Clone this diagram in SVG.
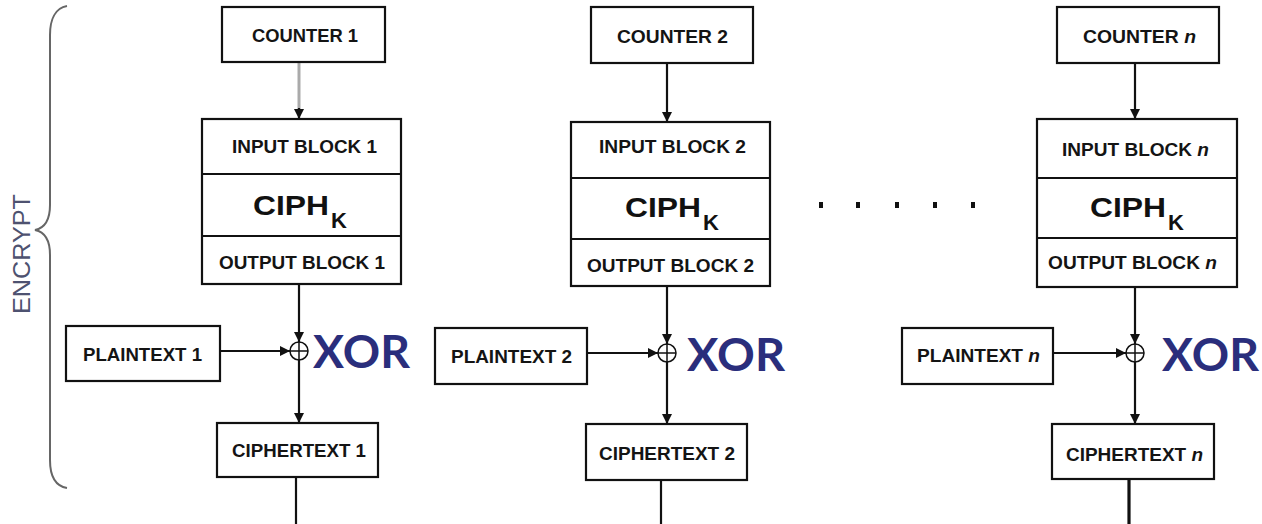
<svg xmlns="http://www.w3.org/2000/svg" width="1262" height="524" viewBox="0 0 1262 524">
  <style>
    .box { fill: #fff; stroke: #111; stroke-width: 2.2; }
    .lbl { font-family: "Liberation Sans", Arial, sans-serif; font-weight: bold; font-size: 18px; fill: #141414; text-anchor: middle; }
    .ciph { font-family: "Liberation Sans", Arial, sans-serif; font-weight: bold; font-size: 28px; fill: #111; }
    .sub { font-size: 22px; }
    .it { font-style: italic; }
    .xor { font-family: Lato, "Liberation Sans", sans-serif; font-weight: 700; font-size: 46px; fill: #2a2e7c; }
    .wire { fill: none; stroke: #111; stroke-width: 2.2; }
    .sum { fill: #fff; stroke: #111; stroke-width: 1.5; }
    .dot { fill: #111; }
  </style>
  <defs>
    <marker id="arrow" viewBox="0 0 10 10" refX="10" refY="5" markerWidth="10" markerHeight="10" markerUnits="userSpaceOnUse" orient="auto">
      <path d="M0,0 L10,5 L0,10 Z" fill="#111"/>
    </marker>
  </defs>
  <rect width="1262" height="524" fill="#fff"/>

  <!-- encrypt brace -->
  <g id="encrypt">
    <path d="M67,6 C55,8 50,20 50,35 L50,205 C50,220 45,228 35,230 C45,232 50,240 50,255 L50,460 C50,475 55,486 67,488" fill="none" stroke="#666" stroke-width="2"/>
    <text transform="translate(30,254) rotate(-90)" font-family="Liberation Sans, Arial, sans-serif" font-size="24" fill="#4e5270" text-anchor="middle" textLength="120" lengthAdjust="spacingAndGlyphs">ENCRYPT</text>
  </g>

  <!-- connectors -->
  <g id="connectors">
    <!-- chain 1 -->
    <line x1="299" y1="62" x2="299" y2="110" stroke="#aaa" stroke-width="3"/>
    <line class="wire" x1="299" y1="108" x2="299" y2="119" marker-end="url(#arrow)"/>
    <line class="wire" x1="299" y1="284" x2="299" y2="342" marker-end="url(#arrow)"/>
    <line class="wire" x1="220" y1="351" x2="290" y2="351" marker-end="url(#arrow)"/>
    <line class="wire" x1="299" y1="360" x2="299" y2="423" marker-end="url(#arrow)"/>
    <line class="wire" x1="296" y1="477" x2="296" y2="524"/>
    <!-- chain 2 -->
    <line class="wire" x1="667" y1="63" x2="667" y2="122" marker-end="url(#arrow)"/>
    <line class="wire" x1="667" y1="286" x2="667" y2="344" marker-end="url(#arrow)"/>
    <line class="wire" x1="587" y1="353" x2="658" y2="353" marker-end="url(#arrow)"/>
    <line class="wire" x1="667" y1="362" x2="667" y2="424" marker-end="url(#arrow)"/>
    <line class="wire" x1="661" y1="480" x2="661" y2="524"/>
    <!-- chain n -->
    <line class="wire" x1="1135" y1="63" x2="1135" y2="119" marker-end="url(#arrow)"/>
    <line class="wire" x1="1135" y1="287" x2="1135" y2="344" marker-end="url(#arrow)"/>
    <line class="wire" x1="1053" y1="353" x2="1126" y2="353" marker-end="url(#arrow)"/>
    <line class="wire" x1="1135" y1="362" x2="1135" y2="424" marker-end="url(#arrow)"/>
    <line class="wire" x1="1129" y1="479" x2="1129" y2="524" style="stroke-width:3.2"/>
  </g>

  <!-- chain 1 -->
  <g id="counter-1">
    <rect class="box" x="222" y="7" width="163" height="55"/>
    <text class="lbl" x="305" y="42" textLength="106" lengthAdjust="spacingAndGlyphs">COUNTER 1</text>
  </g>
  <g id="cipher-1">
    <rect class="box" x="202" y="119" width="199" height="165"/>
    <line class="wire" x1="202" y1="174" x2="401" y2="174"/>
    <line class="wire" x1="202" y1="236" x2="401" y2="236"/>
    <text class="lbl" x="304.5" y="153" textLength="145" lengthAdjust="spacingAndGlyphs">INPUT BLOCK 1</text>
    <text class="ciph" x="253" y="215"><tspan textLength="76" lengthAdjust="spacingAndGlyphs">CIPH</tspan><tspan class="sub" x="331" y="228">K</tspan></text>
    <text class="lbl" x="302" y="269" textLength="166" lengthAdjust="spacingAndGlyphs">OUTPUT BLOCK 1</text>
  </g>
  <g id="plaintext-1">
    <rect class="box" x="66" y="326" width="154" height="55"/>
    <text class="lbl" x="142.5" y="361" textLength="119" lengthAdjust="spacingAndGlyphs">PLAINTEXT 1</text>
  </g>
  <g id="xor-1">
    <circle class="sum" cx="299" cy="351" r="9"/>
    <path class="wire" d="M290,351 H308 M299,342 V360" style="stroke-width:1.5"/>
    <text class="xor" x="313" y="368" textLength="97" lengthAdjust="spacingAndGlyphs">XOR</text>
  </g>
  <g id="ciphertext-1">
    <rect class="box" x="217" y="423" width="161" height="54"/>
    <text class="lbl" x="299" y="457" textLength="134" lengthAdjust="spacingAndGlyphs">CIPHERTEXT 1</text>
  </g>

  <!-- chain 2 -->
  <g id="counter-2">
    <rect class="box" x="591" y="7" width="162" height="56"/>
    <text class="lbl" x="672.5" y="43" textLength="111" lengthAdjust="spacingAndGlyphs">COUNTER 2</text>
  </g>
  <g id="cipher-2">
    <rect class="box" x="571" y="122" width="199" height="164"/>
    <line class="wire" x1="571" y1="178" x2="770" y2="178"/>
    <line class="wire" x1="571" y1="239" x2="770" y2="239"/>
    <text class="lbl" x="672.5" y="153" textLength="147" lengthAdjust="spacingAndGlyphs">INPUT BLOCK 2</text>
    <text class="ciph" x="625" y="217"><tspan textLength="76" lengthAdjust="spacingAndGlyphs">CIPH</tspan><tspan class="sub" x="703" y="230">K</tspan></text>
    <text class="lbl" x="670.5" y="272" textLength="167" lengthAdjust="spacingAndGlyphs">OUTPUT BLOCK 2</text>
  </g>
  <g id="plaintext-2">
    <rect class="box" x="435" y="328" width="152" height="56"/>
    <text class="lbl" x="511.5" y="363" textLength="121" lengthAdjust="spacingAndGlyphs">PLAINTEXT 2</text>
  </g>
  <g id="xor-2">
    <circle class="sum" cx="667" cy="353" r="9"/>
    <path class="wire" d="M658,353 H676 M667,344 V362" style="stroke-width:1.5"/>
    <text class="xor" x="687" y="371" textLength="98" lengthAdjust="spacingAndGlyphs">XOR</text>
  </g>
  <g id="ciphertext-2">
    <rect class="box" x="586" y="424" width="161" height="56"/>
    <text class="lbl" x="667" y="460" textLength="136" lengthAdjust="spacingAndGlyphs">CIPHERTEXT 2</text>
  </g>

  <!-- ellipsis between chains -->
  <g id="ellipsis">
    <rect class="dot" x="819" y="202" width="4" height="6"/>
    <rect class="dot" x="856" y="202" width="4" height="6"/>
    <rect class="dot" x="895" y="202" width="4" height="6"/>
    <rect class="dot" x="933" y="202" width="4" height="6"/>
    <rect class="dot" x="971" y="202" width="4" height="6"/>
  </g>

  <!-- chain n -->
  <g id="counter-n">
    <rect class="box" x="1057" y="7" width="162" height="56"/>
    <text class="lbl" x="1139.5" y="43" textLength="113" lengthAdjust="spacingAndGlyphs">COUNTER <tspan class="it">n</tspan></text>
  </g>
  <g id="cipher-n">
    <rect class="box" x="1037" y="119" width="200" height="168"/>
    <line class="wire" x1="1037" y1="178" x2="1237" y2="178"/>
    <line class="wire" x1="1037" y1="238" x2="1237" y2="238"/>
    <text class="lbl" x="1135.5" y="156" textLength="147" lengthAdjust="spacingAndGlyphs">INPUT BLOCK <tspan class="it">n</tspan></text>
    <text class="ciph" x="1090" y="217"><tspan textLength="76" lengthAdjust="spacingAndGlyphs">CIPH</tspan><tspan class="sub" x="1168" y="230">K</tspan></text>
    <text class="lbl" x="1132.5" y="269" textLength="169" lengthAdjust="spacingAndGlyphs">OUTPUT BLOCK <tspan class="it">n</tspan></text>
  </g>
  <g id="plaintext-n">
    <rect class="box" x="902" y="328" width="151" height="56"/>
    <text class="lbl" x="978.5" y="362" textLength="123" lengthAdjust="spacingAndGlyphs">PLAINTEXT <tspan class="it">n</tspan></text>
  </g>
  <g id="xor-n">
    <circle class="sum" cx="1135" cy="353" r="9"/>
    <path class="wire" d="M1126,353 H1144 M1135,344 V362" style="stroke-width:1.5"/>
    <text class="xor" x="1162" y="371" textLength="97" lengthAdjust="spacingAndGlyphs">XOR</text>
  </g>
  <g id="ciphertext-n">
    <rect class="box" x="1052" y="424" width="162" height="55"/>
    <text class="lbl" x="1134.5" y="461" textLength="137" lengthAdjust="spacingAndGlyphs">CIPHERTEXT <tspan class="it">n</tspan></text>
  </g>
</svg>
